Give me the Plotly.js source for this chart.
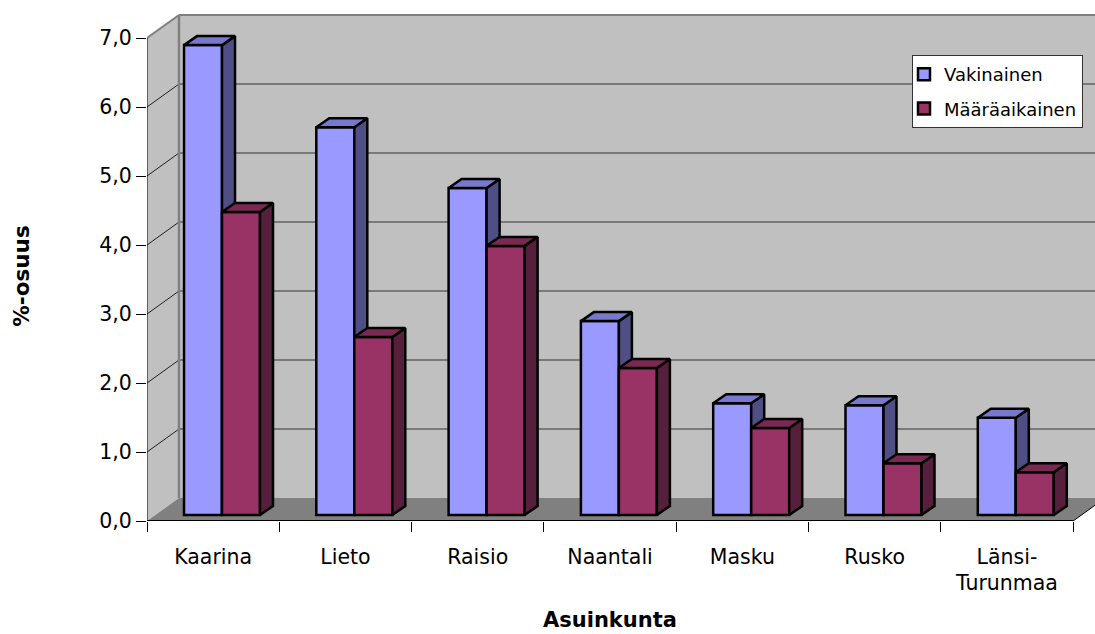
<!DOCTYPE html>
<html><head><meta charset="utf-8">
<script src="https://cdn.plot.ly/plotly-3.0.1.min.js"></script>
<style>html,body{margin:0;padding:0;background:#fff}</style></head>
<body><div id="chart" style="width:1095px;height:634px"></div>
<script>
const categories = ["Kaarina","Lieto","Raisio","Naantali","Masku","Rusko","Länsi-<br>Turunmaa"];
const vakinainen = [6.81,5.62,4.74,2.81,1.62,1.59,1.41];
const maaraaikainen = [4.39,2.58,3.90,2.13,1.26,0.75,0.62];
const yTicks = [0,1,2,3,4,5,6,7];
const seriesNames = ["Vakinainen","Määräaikainen"];

const FONT = '"DejaVu Sans", sans-serif';
const pxX = 132.3, pxY = 69;
const xMax = 948/pxX, yMax = 511/pxY;
const wallDx = 32/pxX, wallDy = 23/pxY;
const barW = 38/pxX, barStart = 37/pxX, lift = 6/pxY, sideDx = 13/pxX, sideDy = 9/pxY;
const idx = categories.map((_,i)=>i);
const centers = idx.map(i=>i+0.5);
const edges = categories.map((_,i)=>i).concat([categories.length]);
const nCat = categories.length;

function poly(pts){return 'M'+pts.map(p=>p[0]+','+p[1]).join('L')+'Z';}
function seg(a,b){return 'M'+a[0]+','+a[1]+'L'+b[0]+','+b[1];}
const shapes = [];
function addShape(path,fill,color,width){
  shapes.push({type:'path',path:path,xref:'x',yref:'y',layer:'below',
    fillcolor:fill||'rgba(0,0,0,0)',line:{color:color||'rgba(0,0,0,0)',width:width||0}});
}
const top7 = yTicks[yTicks.length-1];
// walls and floor
addShape(poly([[0,0],[0,top7],[wallDx,top7+wallDy],[xMax,top7+wallDy],[xMax,wallDy],[wallDx,wallDy]]),'#C0C0C0');
addShape(poly([[0,0],[wallDx,wallDy],[xMax,wallDy],[xMax,(xMax-nCat)/wallDx*wallDy],[nCat,0]]),'#808080');
// gridlines
yTicks.slice(1,-1).forEach(v=>{
  addShape(seg([wallDx,v+wallDy],[xMax,v+wallDy]),null,'#333333',1);
  addShape(seg([0,v],[wallDx,v+wallDy]),null,'#202020',1);
});
// wall edges
addShape(seg([0,top7],[wallDx,top7+wallDy]),null,'#808080',2);
addShape(seg([wallDx,top7+wallDy],[xMax,top7+wallDy]),null,'#808080',2);
addShape(seg([wallDx,top7+wallDy],[wallDx,wallDy]),null,'#808080',2.5);
addShape(seg([nCat,0],[xMax,(xMax-nCat)/wallDx*wallDy]),null,'#000',1);

function faces(values,offset,part){
  const xs=[],ys=[];
  values.forEach((v,i)=>{
    const l=i+barStart+offset, r=l+barW, t=v+lift;
    const pts = part==='side'
      ? [[r,lift],[r+sideDx,lift+sideDy],[r+sideDx,t+sideDy],[r,t],[r,lift]]
      : [[l,t],[l+sideDx,t+sideDy],[r+sideDx,t+sideDy],[r,t],[l,t]];
    pts.forEach(p=>{xs.push(p[0]);ys.push(p[1]);});
    xs.push(null);ys.push(null);
  });
  return {x:xs,y:ys};
}
function series(values,name,offset,cols,xa,ya){
  const out=[{type:'bar',name:name,legendgroup:name,x:idx.map(i=>i+barStart+offset),y:values,
    base:values.map(()=>lift),width:barW,offset:0,xaxis:xa,yaxis:ya,
    marker:{color:cols[0],line:{color:'#000',width:2.5}},hoverinfo:'y'}];
  [['side',cols[1]],['top',cols[2]]].forEach(([p,c])=>{
    const f=faces(values,offset,p);
    out.push({type:'scatter',mode:'lines',x:f.x,y:f.y,fill:'toself',fillcolor:c,xaxis:xa,yaxis:ya,
      line:{color:'#000',width:2.5},showlegend:false,hoverinfo:'skip',cliponaxis:false});
  });
  return out;
}
const axisLines = [
  {type:'scatter',mode:'lines',x:[0,0],y:[top7,0],line:{color:'#000',width:1},showlegend:false,hoverinfo:'skip',cliponaxis:false},
  {type:'scatter',mode:'lines',x:[0,nCat],y:[0,0],line:{color:'#000',width:2},showlegend:false,hoverinfo:'skip',cliponaxis:false}
];
const data = axisLines
  .concat(series(vakinainen,seriesNames[0],0,['#9999FF','#4F4F85','#7878CC'],'x','y'))
  .concat(series(maaraaikainen,seriesNames[1],barW,['#993366','#561F3C','#7A2952'],'x2','y2'));

const tickFont = {family:FONT,size:20.5,color:'#000'};
const layout = {
  width:1095,height:634,margin:{l:147,r:0,t:10,b:113},
  paper_bgcolor:'#fff',plot_bgcolor:'#fff',barmode:'overlay',separators:', ',
  font:{family:FONT,color:'#000'},
  xaxis:{type:'linear',range:[0,xMax],tickmode:'array',tickvals:centers,ticktext:categories,
    ticks:'outside',ticklen:10,tickcolor:'rgba(0,0,0,0)',ticklabelstandoff:7,tickfont:tickFont,
    showgrid:false,zeroline:false,showline:false,
    minor:{tickmode:'array',tickvals:edges,ticks:'outside',ticklen:10,tickwidth:1,tickcolor:'#000',showgrid:false}},
  yaxis:{type:'linear',range:[0,yMax],tickmode:'array',tickvals:yTicks,tickformat:'.1f',
    ticks:'outside',ticklen:10,tickwidth:1,tickcolor:'#000',tickfont:tickFont,
    showgrid:false,zeroline:false,showline:false},
  xaxis2:{overlaying:'x',range:[0,xMax],visible:false},
  yaxis2:{overlaying:'y',range:[0,yMax],visible:false},
  shapes:shapes,
  showlegend:true,
  legend:{x:(912-147)/948,xanchor:'left',y:1-(55-10)/511,yanchor:'top',bgcolor:'#fff',
    bordercolor:'#333',borderwidth:1,font:{family:FONT,size:18,color:'#000'},
    traceorder:'grouped',tracegroupgap:8,indentation:-9},
  annotations:[
    {text:'<b>Asuinkunta</b>',xref:'x',x:nCat/2,yref:'paper',y:-(620-521)/511,yanchor:'middle',xanchor:'center',showarrow:false,borderpad:0,
      font:{family:FONT,size:21,color:'#000'}},
    {text:'<b>%-osuus</b>',xref:'paper',x:-(147-22)/948,xanchor:'center',yref:'y',y:top7/2+0.04,yanchor:'middle',textangle:-90,showarrow:false,borderpad:0,
      font:{family:FONT,size:21.5,color:'#000'}}
  ]
};
Plotly.newPlot('chart',data,layout,{displayModeBar:false,responsive:false});
</script></body></html>
